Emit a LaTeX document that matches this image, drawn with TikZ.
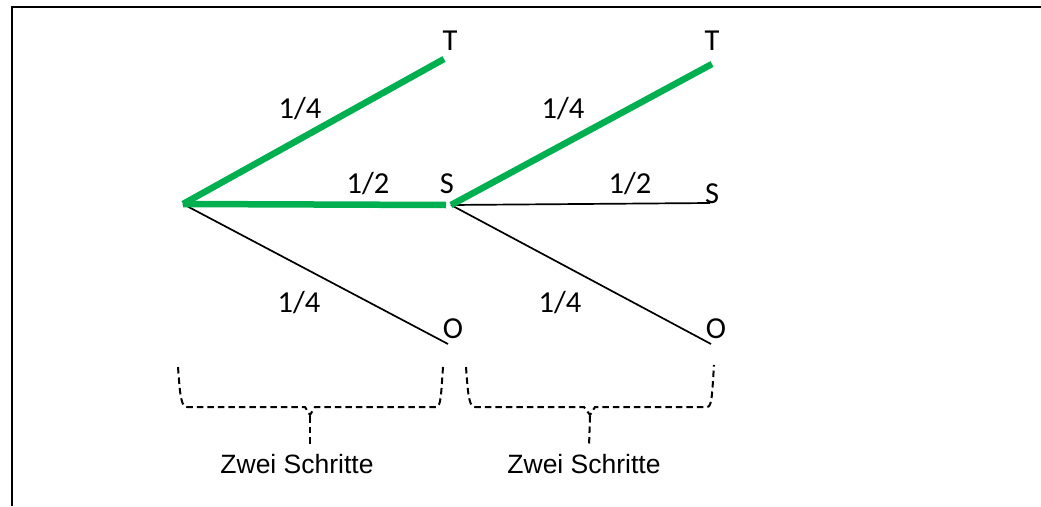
\documentclass[tikz,border=0pt]{standalone}
\usepackage{fontspec}
\setmainfont{Carlito}
\newfontfamily\arialfont{Liberation Sans}
\definecolor{officegreen}{RGB}{0,176,80}
\begin{document}
\begin{tikzpicture}[x=1pt,y=-1pt,
  branch/.style={line width=1.7pt, black},
  chosen/.style={line width=6.5pt, officegreen},
  lbl/.style={inner sep=0pt, anchor=base, font=\fontsize{30.5}{36}\selectfont},
  caption/.style={inner sep=0pt, anchor=base, font=\arialfont\fontsize{26.5}{32}\selectfont},
  bracket/.style={dash pattern=on 6.5pt off 4pt, line width=2pt},
  frameline/.style={line width=2pt}]
\useasboundingbox (0,0) rectangle (1041,506);
% frame (top and left edges visible)
\coordinate (fbl) at (12,506);
\coordinate (ftl) at (12,7);
\coordinate (ftr) at (1041,7);
\draw[frameline] (fbl) -- (ftl) -- (ftr);

% tree points
\coordinate (r1) at (183,204);
\coordinate (t1) at (444,59);
\coordinate (s1) at (446,205);
\coordinate (o1) at (448,344);
\coordinate (r2) at (451,205);
\coordinate (t2) at (712,64);
\coordinate (s2) at (710,203);
\coordinate (o2) at (711,344);

% branches
\draw[branch] (r1) -- (o1);
\draw[branch] (r2) -- (s2);
\draw[branch] (r2) -- (o2);
\draw[chosen] (r1) -- (s1);
\draw[chosen] (r1) -- (t1);
\draw[chosen] (r2) -- (t2);

% leaf labels
\node[lbl] (lt1) at (450,50) {T};
\node[lbl] (ls1) at (447,193) {S};
\node[lbl] (lo1) at (453,338) {O};
\node[lbl] (lt2) at (712,50) {T};
\node[lbl] (ls2) at (712,203) {S};
\node[lbl] (lo2) at (716,338) {O};

% probabilities
\node[lbl] (p1a) at (300,118) {1/4};
\node[lbl] (p1b) at (368,193) {1/2};
\node[lbl] (p1c) at (299,312) {1/4};
\node[lbl] (p2a) at (563,118) {1/4};
\node[lbl] (p2b) at (630,193) {1/2};
\node[lbl] (p2c) at (560,312) {1/4};

% braces
\draw[bracket] (178,367) .. controls (180,395) and (181,407) .. (187,407)
  -- (305,407) -- (310,415) -- (315,407) -- (436,407)
  .. controls (441,407) and (441,395) .. (443,367);
\coordinate (b1tip) at (310,416);
\coordinate (b1end) at (310,447);
\draw[bracket] (b1tip) -- (b1end);

\draw[bracket] (466,367) .. controls (468,395) and (469,407) .. (475,407)
  -- (584,407) -- (590,415) -- (595,407) -- (707,407)
  .. controls (712,407) and (712,395) .. (714,365);
\coordinate (b2tip) at (590,416);
\coordinate (b2end) at (589,447);
\draw[bracket] (b2tip) -- (b2end);

% captions
\node[caption] (c1) at (297,473) {Zwei Schritte};
\node[caption] (c2) at (584,473) {Zwei Schritte};
\end{tikzpicture}
\end{document}
